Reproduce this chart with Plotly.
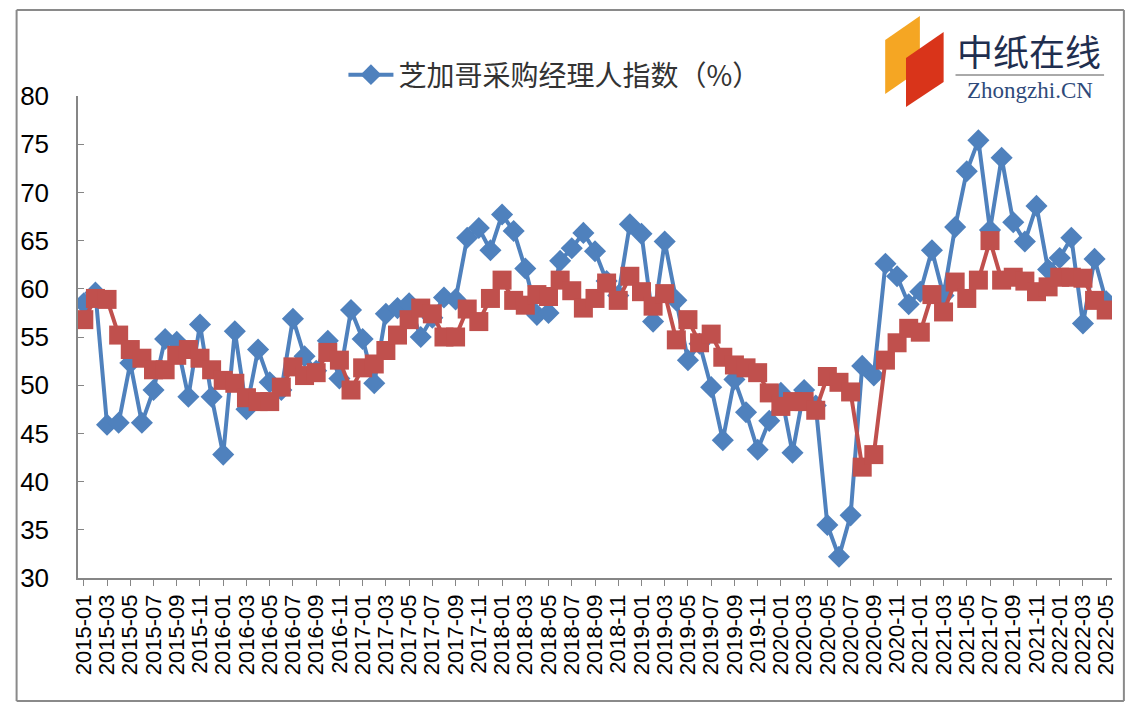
import plotly.graph_objects as go

# months 2015-01 .. 2022-05
MONTHS = [f"{y}-{m:02d}" for y in range(2015, 2023) for m in range(1, 13)][:89]
TICK_LABELS = MONTHS[::2]

SERIES_NAME = "芝加哥采购经理人指数（%）"

chicago_pmi = [
    58.5, 59.6, 45.9, 46.1, 52.3, 46.1, 49.5, 54.8, 54.5, 48.8,
    56.3, 48.8, 42.8, 55.6, 47.5, 53.7, 50.3, 49.5, 56.9, 53.0,
    51.5, 54.6, 50.7, 57.8, 54.8, 50.2, 57.4, 58.0, 58.5, 55.0,
    57.0, 59.1, 58.9, 65.3, 66.3, 64.0, 67.7, 66.0, 62.1, 57.3,
    57.5, 62.9, 64.2, 65.8, 63.9, 60.8, 59.3, 66.7, 65.7, 56.6,
    64.9, 58.8, 52.6, 54.3, 49.8, 44.3, 50.6, 47.2, 43.3, 46.3,
    49.2, 43.0, 49.5, 47.9, 35.5, 32.2, 36.5, 52.0, 51.0, 62.6,
    61.3, 58.4, 59.7, 64.0, 59.3, 66.4, 72.2, 75.4, 66.1, 73.6,
    66.9, 64.9, 68.6, 62.0, 63.2, 65.3, 56.4, 63.1, 58.7,
]

second_series = [
    56.8, 59.0, 58.9, 55.2, 53.7, 52.8, 51.6, 51.6, 53.1, 53.7,
    52.8, 51.6, 50.5, 50.2, 48.7, 48.3, 48.3, 49.8, 51.9, 51.0,
    51.3, 53.4, 52.6, 49.5, 51.8, 52.2, 53.6, 55.2, 56.8, 58.0,
    57.4, 55.0, 55.0, 57.9, 56.6, 59.0, 60.9, 58.8, 58.3, 59.4,
    59.2, 60.9, 59.8, 58.0, 59.0, 60.6, 58.8, 61.3, 59.7, 58.2,
    59.5, 54.7, 56.8, 54.4, 55.3, 52.9, 52.1, 51.8, 51.3, 49.2,
    47.8, 48.3, 48.3, 47.4, 50.9, 50.3, 49.3, 41.5, 42.8, 52.6,
    54.4, 55.9, 55.5, 59.4, 57.6, 60.7, 59.0, 60.9, 65.0, 60.9,
    61.2, 60.8, 59.7, 60.2, 61.2, 61.2, 61.1, 58.8, 57.8,
]

BLUE = "#4F81BD"
RED = "#C0504D"

# page body margin shifts the figure by 8px, so size it to fit the window
OFF = 8
W, H = 1138 - 2 * OFF, 711 - 2 * OFF
L, T = 72 - OFF, 96 - OFF
R, B = W - (1116 - OFF), H - (578 - OFF)
PW, PH = W - L - R, H - T - B


def px(x):
    # window pixel -> paper x
    return (x - OFF - L) / PW


def py(y):
    # window pixel -> paper y
    return 1 - (y - OFF - T) / PH


def frame_line(x0, y0, x1, y1):
    return dict(type="line", xref="paper", yref="paper",
                x0=px(x0), y0=py(y0), x1=px(x1), y1=py(y1),
                line=dict(color="#8a8a8a", width=2))


fig = go.Figure()
fig.add_trace(go.Scatter(
    x=MONTHS, y=chicago_pmi, name=SERIES_NAME, mode="lines+markers",
    line=dict(color=BLUE, width=4),
    marker=dict(symbol="diamond", size=17, color=BLUE),
))
fig.add_trace(go.Scatter(
    x=MONTHS, y=second_series, name="", mode="lines+markers", showlegend=False,
    line=dict(color=RED, width=4),
    marker=dict(symbol="square", size=19, color=RED),
))

shapes = [
    # outer frame
    frame_line(10, 10, 1128, 10),
    frame_line(10, 10, 10, 701),
    frame_line(1128, 10, 1128, 701),
    frame_line(10, 701, 1128, 701),
    # logo blocks
    dict(type="path", xref="paper", yref="paper",
         path=f"M {px(887)} {py(40)} L {px(922)} {py(16)} L {px(922)} {py(70)} L {px(887)} {py(94)} Z",
         fillcolor="#F5A623", line=dict(width=0)),
    dict(type="path", xref="paper", yref="paper",
         path=f"M {px(908)} {py(58)} L {px(946)} {py(32)} L {px(946)} {py(82)} L {px(908)} {py(107)} Z",
         fillcolor="#D9341A", line=dict(width=0)),
    dict(type="line", xref="paper", yref="paper",
         x0=px(958), x1=px(1108), y0=py(75), y1=py(75),
         line=dict(color="#555555", width=1)),
]

annotations = [
    dict(text="中纸在线", x=px(1032), y=py(50), xref="paper", yref="paper",
         showarrow=False, xanchor="center", yanchor="middle",
         font=dict(family="Noto Sans CJK SC", size=36, color="#1F2E4F")),
    dict(text="Zhongzhi.CN", x=px(1033), y=py(90), xref="paper", yref="paper",
         showarrow=False, xanchor="center", yanchor="middle",
         font=dict(family="Liberation Serif", size=23, color="#2E4A7A")),
]

fig.update_layout(
    width=W, height=H,
    margin=dict(l=L, r=R, t=T, b=B),
    paper_bgcolor="white", plot_bgcolor="white",
    font=dict(family="Liberation Sans, Arial", color="black"),
    showlegend=True,
    legend=dict(x=px(340), y=py(75), xanchor="left", yanchor="middle",
                font=dict(family="Noto Sans CJK SC", size=28, color="#333333"),
                bgcolor="rgba(0,0,0,0)", itemwidth=45),
    shapes=shapes,
    annotations=annotations,
    xaxis=dict(
        type="category", range=[-0.5, len(MONTHS) - 0.5],
        tickmode="array", tickvals=TICK_LABELS, ticktext=TICK_LABELS,
        tickangle=-90, tickfont=dict(size=22, color="black"),
        showline=True, linecolor="#868686", linewidth=1.5,
        ticks="outside", ticklen=6, tickcolor="#868686",
        showgrid=False, zeroline=False,
    ),
    yaxis=dict(
        range=[30, 80], dtick=5, tickfont=dict(size=26, color="black"),
        showline=True, linecolor="#868686", linewidth=1.5,
        ticks="inside", ticklen=6, tickcolor="#868686",
        ticklabelstandoff=22,
        showgrid=False, zeroline=False,
    ),
)

fig.write_html("out.html")
